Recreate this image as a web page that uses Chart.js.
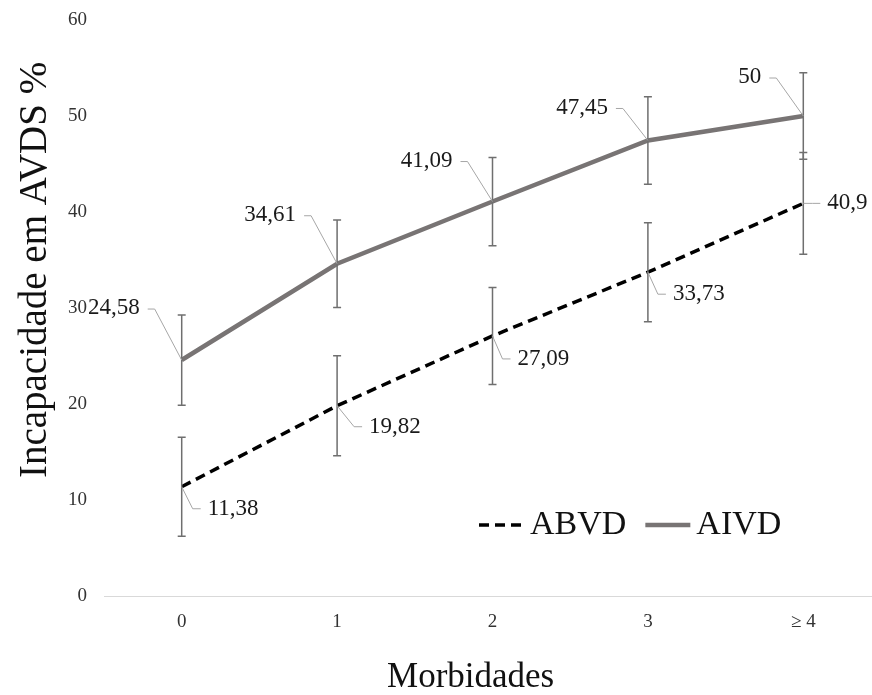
<!DOCTYPE html>
<html lang="pt">
<head>
    <meta charset="UTF-8">
    <title>Incapacidade em AVDS por morbidades</title>
    <script src="https://cdn.jsdelivr.net/npm/chart.js"></script>
    <style>
        html, body { margin: 0; padding: 0; background: #fff; overflow: hidden; }
        .wrap { width: 890px; height: 695px; }
    </style>
</head>
<body>
    <div class="wrap">
        <canvas id="chart" width="890" height="695"></canvas>
    </div>

    <script>
        // data
        const categories = ['0', '1', '2', '3', '\u2265 4'];
        const abvd = [11.38, 19.82, 27.09, 33.73, 40.9];
        const abvdErr = [5.15, 5.2, 5.05, 5.15, 5.3];
        const aivd = [24.58, 34.61, 41.09, 47.45, 50];
        const aivdErr = [4.7, 4.55, 4.6, 4.55, 4.5];
        const yTicks = [0, 10, 20, 30, 40, 50, 60];

        const serif = '"Liberation Serif", "Times New Roman", serif';
        Chart.defaults.font.family = serif;
        Chart.defaults.color = '#333';

        // where each value label sits relative to its point (dx, dy)
        const labelOffsets = {
            ABVD: { side: 'right', pos: [[26, 22], [32, 21], [25, 23], [25, 22], [24, 0]] },
            AIVD: { side: 'left', pos: [[-42, -52], [-41, -49], [-40, -41], [-40, -33], [-42, -39]] }
        };

        const fmt = v => String(v).replace('.', ',');

        // error bars, value labels with leader lines, and legend
        const extras = {
            id: 'extras',
            afterDatasetsDraw(chart) {
                const ctx = chart.ctx;
                const y = chart.scales.y;
                ctx.save();

                // error bars
                chart.data.datasets.forEach((ds, i) => {
                    const meta = chart.getDatasetMeta(i);
                    meta.data.forEach((pt, j) => {
                        const top = y.getPixelForValue(ds.data[j] + ds.errors[j]);
                        const bot = y.getPixelForValue(ds.data[j] - ds.errors[j]);
                        ctx.strokeStyle = '#6f6f6f';
                        ctx.lineWidth = 1.5;
                        ctx.beginPath();
                        ctx.moveTo(pt.x, top); ctx.lineTo(pt.x, bot);
                        ctx.moveTo(pt.x - 4, top); ctx.lineTo(pt.x + 4, top);
                        ctx.moveTo(pt.x - 4, bot); ctx.lineTo(pt.x + 4, bot);
                        ctx.stroke();
                    });
                });

                // value labels
                ctx.font = '23px ' + serif;
                ctx.textBaseline = 'middle';
                chart.data.datasets.forEach((ds, i) => {
                    const meta = chart.getDatasetMeta(i);
                    const conf = labelOffsets[ds.label];
                    meta.data.forEach((pt, j) => {
                        const [dx, dy] = conf.pos[j];
                        const tx = pt.x + dx, ty = pt.y + dy;
                        ctx.strokeStyle = '#a6a6a6';
                        ctx.lineWidth = 1;
                        ctx.beginPath();
                        if (conf.side === 'left') {
                            ctx.moveTo(tx + 8, ty + 1);
                            ctx.lineTo(tx + 15, ty + 1);
                            ctx.lineTo(pt.x, pt.y);
                        } else {
                            ctx.moveTo(pt.x, pt.y);
                            ctx.lineTo(tx - 15, ty);
                            ctx.lineTo(tx - 7, ty);
                        }
                        ctx.stroke();
                        ctx.fillStyle = '#1a1a1a';
                        ctx.textAlign = conf.side === 'left' ? 'right' : 'left';
                        ctx.fillText(fmt(ds.data[j]), tx, ty);
                    });
                });

                // legend inside plot area
                let lx = 479;
                const ly = 525;
                ctx.font = '34px ' + serif;
                ctx.textAlign = 'left';
                chart.data.datasets.forEach(ds => {
                    ctx.strokeStyle = ds.borderColor;
                    ctx.lineWidth = ds.borderWidth;
                    ctx.setLineDash(ds.borderDash || []);
                    ctx.beginPath();
                    ctx.moveTo(lx, ly); ctx.lineTo(lx + 45, ly);
                    ctx.stroke();
                    ctx.setLineDash([]);
                    ctx.fillStyle = '#111';
                    ctx.fillText(ds.label, lx + 51, ly);
                    lx += 51 + ctx.measureText(ds.label).width + 19;
                });

                ctx.restore();
            }
        };

        new Chart(document.getElementById('chart'), {
            type: 'line',
            data: {
                labels: categories,
                datasets: [
                    {
                        label: 'ABVD',
                        data: abvd,
                        errors: abvdErr,
                        borderColor: '#000',
                        borderWidth: 3.5,
                        borderDash: [10, 6],
                        pointRadius: 0,
                        tension: 0,
                        fill: false
                    },
                    {
                        label: 'AIVD',
                        data: aivd,
                        errors: aivdErr,
                        borderColor: '#787474',
                        borderWidth: 4.5,
                        pointRadius: 0,
                        tension: 0,
                        fill: false
                    }
                ]
            },
            options: {
                responsive: false,
                animation: false,
                layout: { padding: { left: 0, right: 9, top: 20, bottom: 0 } },
                plugins: {
                    legend: { display: false },
                    tooltip: { enabled: false }
                },
                scales: {
                    x: {
                        offset: true,
                        grid: { display: false, drawTicks: false },
                        border: { display: true, color: '#d9d9d9', width: 1 },
                        ticks: { padding: 15, color: '#333', font: { size: 19 } },
                        title: {
                            display: true,
                            text: 'Morbidades     ',
                            color: '#111',
                            font: { size: 35, lineHeight: 1 },
                            padding: { top: 0, bottom: 0 }
                        },
                        afterFit: s => { s.height = 99; }
                    },
                    y: {
                        min: 0,
                        max: 60,
                        afterBuildTicks: s => { s.ticks = yTicks.map(v => ({ value: v })); },
                        grid: { display: false, drawTicks: false },
                        border: { display: false },
                        ticks: { padding: 17, color: '#333', font: { size: 19 } },
                        title: {
                            display: true,
                            text: '       \u2009Incapacidade em AVDS %',
                            color: '#111',
                            font: { size: 39, lineHeight: 1.2 },
                            padding: { top: 12, bottom: 0 }
                        },
                        afterFit: s => { s.width = 104; s.paddingTop = 0; s.paddingBottom = 0; }
                    }
                }
            },
            plugins: [extras]
        });
    </script>
</body>
</html>
